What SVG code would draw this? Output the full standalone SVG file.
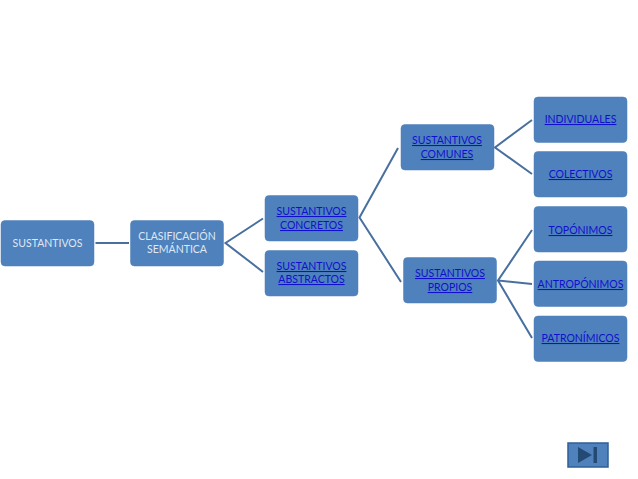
<svg xmlns="http://www.w3.org/2000/svg" width="638" height="479" viewBox="0 0 638 479">
<style>
.box{fill:#4f81bd;stroke:#4f7fb9;stroke-width:.5}
.c{fill:none;stroke:#48709f;stroke-width:2}
text{font-family:"Lato","Liberation Sans",sans-serif;font-size:10.500px;text-anchor:middle}
.w{fill:#dfe8f3}
.l{fill:#1010cc;text-decoration:underline}
</style>
<rect width="638" height="479" fill="#ffffff"/>
<g id="connectors">
<path class="c" d="M95.500 243H129"/>
<path class="c" d="M263 218.500L225.500 243L263 272"/>
<path class="c" d="M398 148L359.500 217.500L401 282"/>
<path class="c" d="M532 120L495 147.500L532 174"/>
<path class="c" d="M532 230L498 280.500L532 284M498 280.500L532 338"/>
</g>
<g id="n1"><rect class="box" x="1" y="220.500" width="93" height="45.500" rx="4"/><text class="w" x="47.500" y="247">SUSTANTIVOS</text></g>
<g id="n2"><rect class="box" x="130.500" y="220.500" width="93" height="45.500" rx="4"/><text class="w" x="177" y="240">CLASIFICACIÓN</text><text class="w" x="177" y="253">SEMÁNTICA</text></g>
<g id="n3"><rect class="box" x="265" y="195.500" width="93" height="45.500" rx="4"/><text class="l" x="311.500" y="215">SUSTANTIVOS</text><text class="l" x="311.500" y="229">CONCRETOS</text></g>
<g id="n4"><rect class="box" x="265" y="250.500" width="93" height="45.500" rx="4"/><text class="l" x="311.500" y="270">SUSTANTIVOS</text><text class="l" x="311.500" y="283">ABSTRACTOS</text></g>
<g id="n5"><rect class="box" x="401" y="124.500" width="93" height="45.500" rx="4"/><text class="l" x="447" y="144">SUSTANTIVOS</text><text class="l" x="447" y="158">COMUNES</text></g>
<g id="n6"><rect class="box" x="403.500" y="257.500" width="93" height="45.500" rx="4"/><text class="l" x="450" y="277">SUSTANTIVOS</text><text class="l" x="450" y="291">PROPIOS</text></g>
<g id="n7"><rect class="box" x="534" y="97" width="93" height="45.500" rx="4"/><text class="l" x="580.500" y="123">INDIVIDUALES</text></g>
<g id="n8"><rect class="box" x="534" y="151.500" width="93" height="45.500" rx="4"/><text class="l" x="580.500" y="178">COLECTIVOS</text></g>
<g id="n9"><rect class="box" x="534" y="206.500" width="93" height="45.500" rx="4"/><text class="l" x="580.500" y="234">TOPÓNIMOS</text></g>
<g id="n10"><rect class="box" x="534" y="261" width="93" height="45.500" rx="4"/><text class="l" x="580.500" y="288">ANTROPÓNIMOS</text></g>
<g id="n11"><rect class="box" x="534" y="316" width="93" height="45.500" rx="4"/><text class="l" x="580.500" y="342">PATRONÍMICOS</text></g>
<g id="nav"><rect x="568" y="443" width="40" height="24" fill="#4f81bd" stroke="#2f5f96" stroke-width="1.500"/><path d="M578 447L592 455L578 463Z" fill="#234a72"/><rect x="593.500" y="447" width="3.500" height="16" fill="#234a72"/></g>
</svg>
